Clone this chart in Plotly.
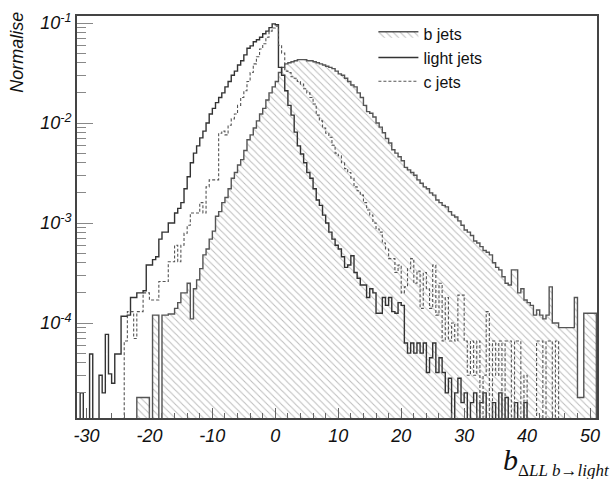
import numpy as np
import plotly.graph_objects as go

# ---- data (bin width 0.5, first bin starts at -31.5) ----
bin_start = -31.5
bin_width = 0.5

light_jets = [
    0, 2e-5, 0, 0, 4.9e-5, 0, 0, 3e-5, 2e-5, 7.7e-5,
    3.1e-5, 2.5e-5, 4.9e-5, 4.9e-5, 1.17e-4, 1.17e-4, 1.2e-4, 1.8e-4, 1.8e-4, 2.0e-4,
    2.0e-4, 2.1e-4, 3.8e-4, 3.8e-4, 4.3e-4, 4.6e-4, 6.9e-4, 8.1e-4, 8.1e-4, 1.0e-3,
    1.0e-3, 1.26e-3, 1.4e-3, 1.6e-3, 2.2e-3, 2.9e-3, 4.0e-3, 5.0e-3, 5.9e-3, 7.1e-3,
    8.3e-3, 1.0e-2, 1.23e-2, 1.4e-2, 1.6e-2, 1.8e-2, 2.0e-2, 2.3e-2, 2.6e-2, 3.0e-2,
    3.3e-2, 3.8e-2, 4.2e-2, 4.8e-2, 5.6e-2, 5.9e-2, 6.5e-2, 6.8e-2, 7.2e-2, 7.8e-2,
    8.3e-2, 9.0e-2, 9.8e-2, 9.6e-2, 3.6e-2, 3.0e-2, 2.1e-2, 1.5e-2, 1.2e-2, 8.1e-3,
    5.9e-3, 4.9e-3, 4.0e-3, 3.2e-3, 2.8e-3, 2.2e-3, 1.7e-3, 1.5e-3, 1.2e-3, 1.0e-3,
    8.1e-4, 6.9e-4, 6.0e-4, 5.5e-4, 4.6e-4, 3.6e-4, 3.8e-4, 4.7e-4, 3.2e-4, 2.8e-4,
    2.4e-4, 2.4e-4, 1.8e-4, 2.2e-4, 2.0e-4, 1.25e-4, 1.25e-4, 1.8e-4, 1.5e-4, 1.8e-4,
    1.3e-4, 1.25e-4, 1.6e-4, 1.5e-4, 6.3e-5, 5.0e-5, 6.3e-5, 5.0e-5, 6.3e-5, 5.0e-5,
    6.3e-5, 3.2e-5, 4.5e-5, 6.3e-5, 3.2e-5, 4.5e-5, 3.2e-5, 2.0e-5, 2.8e-5, 0,
    2.0e-5, 2.8e-5, 1.6e-5, 2.0e-5, 0, 1.6e-5, 2.0e-5, 0, 1.6e-5, 2.0e-5,
    0, 0, 1.6e-5, 0, 2.0e-5, 0, 1.8e-5, 0, 0, 1.6e-5,
    0, 0, 1.6e-5, 0, 0, 0, 0, 0, 0, 0,
    0, 0, 0, 0, 0, 0, 0, 0, 0, 0,
    0, 0, 0, 0, 0,
]

b_jets = [
    0, 0, 0, 0, 0, 0, 0, 0, 0, 0,
    0, 0, 0, 0, 0, 0, 0, 0, 0, 1.8e-5,
    1.8e-5, 1.8e-5, 1.8e-5, 0, 1.2e-4, 1.2e-4, 0, 1.2e-4, 1.2e-4, 1.23e-4,
    1.23e-4, 1.4e-4, 1.6e-4, 2.0e-4, 2.0e-4, 2.5e-4, 1.1e-4, 2.2e-4, 2.7e-4, 3.5e-4,
    4.8e-4, 5.5e-4, 6.9e-4, 8.3e-4, 1.17e-3, 1.3e-3, 1.6e-3, 1.8e-3, 2.2e-3, 2.8e-3,
    3.2e-3, 3.8e-3, 4.3e-3, 5.3e-3, 6.8e-3, 7.6e-3, 8.9e-3, 1.05e-2, 1.23e-2, 1.4e-2,
    1.7e-2, 2.0e-2, 2.3e-2, 2.6e-2, 3.2e-2, 3.6e-2, 3.9e-2, 4.0e-2, 4.1e-2, 4.2e-2,
    4.3e-2, 4.3e-2, 4.3e-2, 4.2e-2, 4.2e-2, 4.1e-2, 4.0e-2, 3.9e-2, 3.8e-2, 3.7e-2,
    3.6e-2, 3.5e-2, 3.3e-2, 3.1e-2, 3.0e-2, 2.8e-2, 2.6e-2, 2.4e-2, 2.3e-2, 2.0e-2,
    1.8e-2, 1.5e-2, 1.3e-2, 1.25e-2, 1.15e-2, 1.0e-2, 9.1e-3, 8.0e-3, 7.0e-3, 6.3e-3,
    5.4e-3, 5.0e-3, 4.6e-3, 4.2e-3, 3.6e-3, 3.4e-3, 3.2e-3, 3.0e-3, 2.7e-3, 2.5e-3,
    2.3e-3, 2.2e-3, 2.0e-3, 1.9e-3, 1.7e-3, 1.6e-3, 1.5e-3, 1.45e-3, 1.3e-3, 1.2e-3,
    1.15e-3, 1.05e-3, 9.5e-4, 8.5e-4, 8.1e-4, 7.5e-4, 6.6e-4, 6.3e-4, 5.8e-4, 5.3e-4,
    5.1e-4, 4.8e-4, 4.0e-4, 3.6e-4, 3.4e-4, 2.9e-4, 2.5e-4, 2.4e-4, 3.4e-4, 3.4e-4,
    2.0e-4, 2.2e-4, 1.7e-4, 1.6e-4, 1.5e-4, 1.2e-4, 1.35e-4, 1.2e-4, 1.1e-4, 1.2e-4,
    2.3e-4, 1.0e-4, 1.0e-4, 9e-5, 9e-5, 9e-5, 9e-5, 9e-5, 1.8e-4, 1.8e-5,
    1.8e-5, 1.25e-4, 1.25e-4, 1.25e-4, 1.25e-4,
]

c_jets = [
    0, 0, 0, 0, 0, 0, 0, 0, 0, 0,
    0, 0, 0, 0, 0, 6.6e-5, 1.3e-4, 1.3e-4, 7e-5, 1.3e-4,
    1.3e-4, 2.0e-4, 2.0e-4, 1.7e-4, 1.7e-4, 1.7e-4, 2.6e-4, 2.6e-4, 2.6e-4, 4.1e-4,
    4.1e-4, 6.0e-4, 4.1e-4, 6.0e-4, 7.9e-4, 9.5e-4, 1.26e-3, 1.26e-3, 1.26e-3, 1.6e-3,
    1.26e-3, 2.3e-3, 2.7e-3, 2.7e-3, 2.7e-3, 7.9e-3, 8.3e-3, 7.6e-3, 9.5e-3, 1.1e-2,
    1.23e-2, 1.5e-2, 1.8e-2, 2.1e-2, 2.6e-2, 3.2e-2, 3.9e-2, 4.6e-2, 5.5e-2, 6.2e-2,
    7.2e-2, 8.3e-2, 8.9e-2, 9.3e-2, 6.0e-2, 5.0e-2, 3.3e-2, 3.2e-2, 2.9e-2, 2.8e-2,
    2.6e-2, 2.45e-2, 2.2e-2, 2.0e-2, 1.8e-2, 1.55e-2, 1.2e-2, 1.05e-2, 8.9e-3, 7.9e-3,
    7.2e-3, 6.0e-3, 5.0e-3, 4.7e-3, 4.0e-3, 3.5e-3, 3.2e-3, 2.8e-3, 2.3e-3, 2.1e-3,
    1.9e-3, 1.6e-3, 1.35e-3, 1.2e-3, 1.0e-3, 8.7e-4, 8.1e-4, 6.3e-4, 5.5e-4, 4.4e-4,
    4.4e-4, 3.2e-4, 3.8e-4, 2.0e-4, 2.3e-4, 3.5e-4, 4.4e-4, 2.5e-4, 3.3e-4, 1.4e-4,
    3.2e-4, 2.2e-4, 1.4e-4, 3.8e-4, 1.2e-4, 2.5e-4, 6.6e-5, 1.8e-4, 6.6e-5, 1.0e-4,
    6.6e-5, 1.9e-4, 1.9e-4, 6.6e-5, 3e-5, 6.6e-5, 3e-5, 6.6e-5, 0, 3e-5,
    1.3e-4, 0, 6.6e-5, 3e-5, 6.6e-5, 0, 6.6e-5, 6.6e-5, 0, 6.6e-5,
    6.6e-5, 0, 3e-5, 0, 0, 0, 6.6e-5, 6.6e-5, 0, 6.6e-5,
    6.6e-5, 0, 6.6e-5, 0, 0, 0, 0, 0, 0, 0,
    0, 0, 0, 0, 0,
]

x_tick_vals = [-30, -20, -10, 0, 10, 20, 30, 40, 50]
y_tick_vals = [1e-4, 1e-3, 1e-2, 1e-1]
y_tick_text = ["10<sup>-4</sup>", "10<sup>-3</sup>", "10<sup>-2</sup>", "10<sup>-1</sup>"]
legend_names = ["b jets", "light jets", "c jets"]

FLOOR = 1e-7  # empty bins drop below the visible range


def step_xy(vals):
    n = len(vals)
    edges = bin_start + bin_width * np.arange(n + 1)
    v = np.where(np.asarray(vals, float) > 0, vals, FLOOR)
    xs = np.concatenate([[edges[0]], edges[:-1], [edges[-1]]])
    ys = np.concatenate([[FLOOR], v, [v[-1]]])
    return xs, ys, edges


fig = go.Figure()

# b jets: hatched, closed polygon
bx, by, bedges = step_xy(b_jets)
bx_c = np.concatenate([bx, [bedges[-1], bedges[0]]])
by_c = np.concatenate([by, [FLOOR, FLOOR]])
fig.add_trace(go.Scatter(
    x=bx_c, y=by_c, mode="lines", line=dict(shape="hv", color="#555555", width=1.4),
    fill="toself", fillcolor="rgba(255,255,255,0)",
    fillpattern=dict(shape="\\", fgcolor="#7a7a7a", bgcolor="white", size=5, solidity=0.2),
    name=legend_names[0], showlegend=True,
))

lx, ly, _ = step_xy(light_jets)
fig.add_trace(go.Scatter(
    x=lx, y=ly, mode="lines", line=dict(shape="hv", color="#333333", width=1.4),
    name=legend_names[1],
))

cx, cy, _ = step_xy(c_jets)
fig.add_trace(go.Scatter(
    x=cx, y=cy, mode="lines", line=dict(shape="hv", color="#555555", width=1.1, dash="3px,2px"),
    name=legend_names[2],
))

tickfont = dict(family="Liberation Sans", size=18, color="#111111", style="italic")

fig.update_layout(
    width=612, height=479,
    margin=dict(l=77, r=15, t=11, b=61),
    paper_bgcolor="white", plot_bgcolor="white",
    showlegend=True,
    legend=dict(
        x=0.57, y=0.998, xanchor="left", yanchor="top",
        bgcolor="rgba(255,255,255,0)", borderwidth=0,
        font=dict(family="Liberation Sans", size=16, color="#111111"),
        itemwidth=40, tracegroupgap=0,
    ),
    xaxis=dict(
        range=[-31.5, 51.1], tickvals=x_tick_vals, ticktext=[str(v) for v in x_tick_vals],
        ticks="inside", ticklen=10, tickcolor="#666666", tickwidth=1,
        minor=dict(ticks="inside", dtick=2, ticklen=5, tickcolor="#666666", showgrid=False),
        showline=True, linecolor="#444444", linewidth=2, mirror=True,
        showgrid=False, zeroline=False, tickfont=tickfont,
    ),
    yaxis=dict(
        type="log", range=[-4.95, -0.93], tickvals=y_tick_vals, ticktext=y_tick_text,
        ticks="inside", ticklen=16, tickcolor="#888888", tickwidth=1,
        minor=dict(
            ticks="inside", ticklen=9, tickcolor="#888888",
            tickvals=[m * 10.0 ** e for e in range(-5, -1) for m in range(2, 10)],
            showgrid=False,
        ),
        showline=True, linecolor="#444444", linewidth=2, mirror=True,
        showgrid=False, zeroline=False, tickfont=tickfont,
    ),
    annotations=[
        dict(text="Normalise", xref="paper", yref="paper", x=-0.115, y=1.015,
             xanchor="center", yanchor="top", textangle=-90, showarrow=False,
             font=dict(family="Liberation Sans", size=18, color="#111111", style="italic")),
        dict(text="<i>b</i><sub><span style='font-size:17px'>Δ<i>LL</i> <i>b</i>→<i>light</i></span></sub>",
             xref="paper", yref="paper", x=1.029, y=-0.108, xanchor="right", yanchor="middle",
             showarrow=False,
             font=dict(family="Liberation Serif", size=30, color="#111111")),
    ],
)

fig.write_html("out.html")
